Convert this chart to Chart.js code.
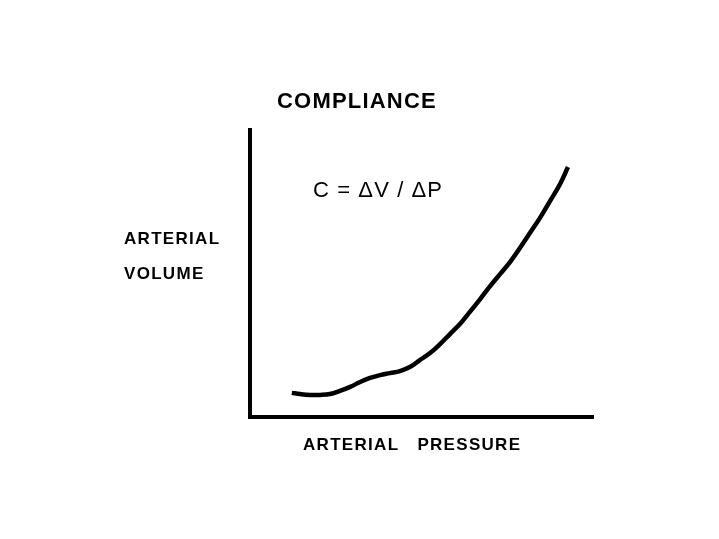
<!DOCTYPE html>
<html>
<head>
<meta charset="utf-8">
<title>Compliance</title>
<script src="https://cdn.jsdelivr.net/npm/chart.js@4.4.1/dist/chart.umd.min.js"></script>
<style>
    html, body { margin: 0; padding: 0; background: #fff; }
    #wrap { width: 719px; height: 539px; position: relative; }
</style>
</head>
<body>
<div id="wrap"><canvas id="complianceChart" width="719" height="539"></canvas></div>
<script>
// arterial pressure (x) vs arterial volume (y), arbitrary units 0-100
const pressure = [12.2, 14.6, 17.5, 20.4, 23.3, 26.2, 29.2, 32.1, 35.0, 37.9, 40.8, 43.7, 46.6, 49.6, 52.5,
    55.4, 58.3, 61.2, 64.1, 67.1, 70.0, 72.9, 75.8, 78.7, 81.6, 84.5, 87.5, 90.4, 92.7];
const volume = [8.4, 8.0, 7.7, 7.7, 8.0, 9.1, 10.5, 12.2, 13.6, 14.6, 15.3, 16.0, 17.4, 19.9, 22.3,
    25.4, 28.9, 32.4, 36.6, 41.1, 45.6, 49.8, 54.0, 58.9, 64.1, 69.3, 75.3, 81.2, 87.1];

const titleText = 'COMPLIANCE';
const formulaText = 'C = \u0394V / \u0394P';
const yLabelLines = ['ARTERIAL', 'VOLUME'];
const xLabelText = 'ARTERIAL   PRESSURE';

// text labels drawn straight onto the canvas
const labelsPlugin = {
    id: 'labels',
    afterDraw(chart) {
        const ctx = chart.ctx;
        ctx.save();
        ctx.fillStyle = '#000';
        ctx.textBaseline = 'alphabetic';
        ctx.textAlign = 'left';

        ctx.font = 'bold 22px "Liberation Sans", Arial, sans-serif';
        ctx.letterSpacing = '1.2px';
        ctx.fillText(titleText, 277, 108);

        ctx.font = 'bold 17px "Liberation Sans", Arial, sans-serif';
        ctx.letterSpacing = '1.3px';
        ctx.fillText(yLabelLines[0], 124, 244);
        ctx.fillText(yLabelLines[1], 124, 279);
        ctx.fillText(xLabelText, 303, 450);

        ctx.font = '22px "Liberation Sans", Arial, sans-serif';
        ctx.letterSpacing = '1.1px';
        ctx.fillText(formulaText, 313, 197);
        ctx.restore();
    }
};

const axisStyle = {
    display: true,
    grid: { display: false, drawTicks: false },
    border: { display: true, color: '#000', width: 4 },
    ticks: { display: false },
    min: 0,
    max: 100
};

new Chart(document.getElementById('complianceChart'), {
    type: 'line',
    data: {
        datasets: [{
            data: pressure.map((p, i) => ({ x: p, y: volume[i] })),
            borderColor: '#000',
            borderWidth: 4.5,
            pointRadius: 0,
            tension: 0.4,
            fill: false
        }]
    },
    options: {
        responsive: false,
        animation: false,
        layout: { padding: { left: 250, right: 126, top: 130, bottom: 122 } },
        plugins: {
            legend: { display: false },
            title: { display: false },
            tooltip: { enabled: false }
        },
        scales: {
            x: { type: 'linear', ...axisStyle },
            y: { type: 'linear', ...axisStyle }
        }
    },
    plugins: [labelsPlugin]
});
</script>
</body>
</html>
